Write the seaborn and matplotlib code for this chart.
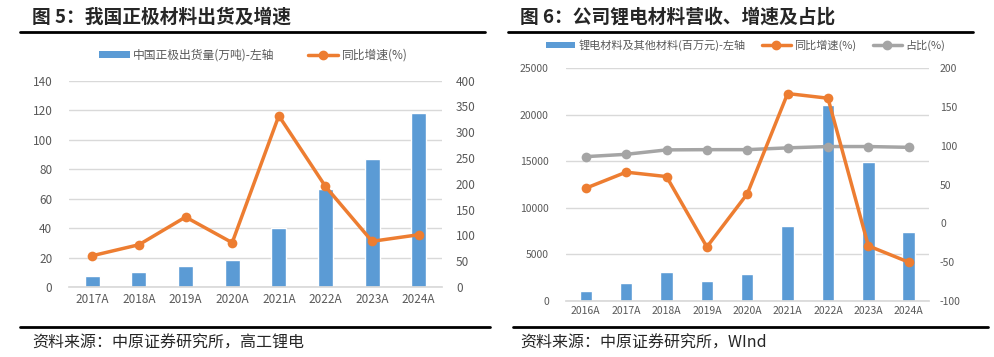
import numpy as np
import pandas as pd
import matplotlib
matplotlib.use("Agg")
import matplotlib.pyplot as plt
from matplotlib.lines import Line2D
from matplotlib.patches import Patch
import seaborn as sns

# chart 5 data
years5 = ['2017A', '2018A', '2019A', '2020A', '2021A', '2022A', '2023A', '2024A']
shipments = [7.7, 10.2, 14.5, 18.3, 39.9, 66.8, 87.2, 117.8]
growth5 = [60.7, 82, 135.7, 86, 332, 195, 88.6, 101.4]

# chart 6 data
years6 = ['2016A', '2017A', '2018A', '2019A', '2020A', '2021A', '2022A', '2023A', '2024A']
revenue = [1100, 1900, 3080, 2150, 2940, 8060, 21060, 14930, 7410]
growth6 = [45.3, 66, 60.3, -30.4, 38, 167.3, 161.3, -29, -50]
share6 = [86, 89, 94.7, 95, 95, 97.3, 99, 99, 98]

sns.set_theme(style="white")
plt.rcParams['font.family'] = ['Noto Sans CJK SC', 'DejaVu Sans']
plt.rcParams['axes.unicode_minus'] = False

BLUE = '#5B9BD5'
ORANGE = '#ED7D31'
GRAY = '#A5A5A5'
TICK = '#595959'
GRID = '#D9D9D9'

fig = plt.figure(figsize=(9.94, 3.57), dpi=100)


def style_axes(ax, ax2, size):
    for a in (ax, ax2):
        for s in a.spines.values():
            s.set_visible(False)
        a.tick_params(axis='both', length=0, labelsize=size, labelcolor=TICK)
        a.set_xlabel('')
        a.set_ylabel('')
    ax.spines['bottom'].set_visible(True)
    ax.spines['bottom'].set_color(GRID)
    ax.yaxis.grid(True, color=GRID, linewidth=1)
    ax.set_axisbelow(True)
    ax2.grid(False)


# ---------- chart 5 ----------
df5 = pd.DataFrame({'year': years5, 'ship': shipments, 'growth': growth5})
ax = fig.add_axes([0.0694, 0.196, 0.3753, 0.578])
sns.barplot(data=df5, x='year', y='ship', color=BLUE, width=0.32, saturation=1, ax=ax)
ax2 = ax.twinx()
sns.lineplot(x=np.arange(len(years5)), y=df5['growth'], color=ORANGE, marker='o',
             markersize=7, markeredgewidth=0, linewidth=2.5, ax=ax2)
ax.set_ylim(0, 140)
ax.set_yticks(range(0, 141, 20))
ax2.set_ylim(0, 400)
ax2.set_yticks(range(0, 401, 50))
ax.set_xlim(-0.5, len(years5) - 0.5)
ax2.set_xlim(-0.5, len(years5) - 0.5)
style_axes(ax, ax2, 8.5)
ax.tick_params(axis='y', pad=12)
ax2.tick_params(axis='y', pad=10)
ax.tick_params(axis='x', pad=4)

h5 = [Patch(facecolor=BLUE, edgecolor='none'),
      Line2D([0], [0], color=ORANGE, lw=2.5, marker='o', markersize=6)]
fig.legend(h5, ['中国正极出货量(万吨)-左轴', '同比增速(%)'], loc='center',
           bbox_to_anchor=(0.255, 0.845), ncol=2, frameon=False, fontsize=8.5,
           labelcolor=TICK, handlelength=2.6, handleheight=0.45, columnspacing=2.8,
           handletextpad=0.3)

fig.text(0.032, 0.952, '图 5：我国正极材料出货及增速', fontsize=13.5, fontweight='bold',
         va='center', ha='left')
fig.add_artist(Line2D([20 / 994, 485 / 994], [0.91, 0.91], color='black', lw=2))
fig.add_artist(Line2D([20 / 994, 490 / 994], [1 - 327 / 357] * 2, color='black', lw=2))
fig.text(0.032, 1 - 343 / 357, '资料来源：中原证券研究所，高工锂电', fontsize=11.5,
         va='center', ha='left')

# ---------- chart 6 ----------
df6 = pd.DataFrame({'year': years6, 'rev': revenue, 'growth': growth6, 'share': share6})
bx = fig.add_axes([0.569, 0.157, 0.3655, 0.652])
sns.barplot(data=df6, x='year', y='rev', color=BLUE, width=0.31, saturation=1, ax=bx)
bx2 = bx.twinx()
pos6 = np.arange(len(years6))
sns.lineplot(x=pos6, y=df6['share'], color=GRAY, marker='o', markersize=7,
             markeredgewidth=0, linewidth=2.5, ax=bx2)
sns.lineplot(x=pos6, y=df6['growth'], color=ORANGE, marker='o', markersize=7,
             markeredgewidth=0, linewidth=2.5, ax=bx2)
bx.set_ylim(0, 25000)
bx.set_yticks(range(0, 25001, 5000))
bx2.set_ylim(-100, 200)
bx2.set_yticks(range(-100, 201, 50))
bx.set_xlim(-0.5, len(years6) - 0.5)
bx2.set_xlim(-0.5, len(years6) - 0.5)
style_axes(bx, bx2, 7.5)
bx.tick_params(axis='y', pad=12)
bx2.tick_params(axis='y', pad=8)

h6 = [Patch(facecolor=BLUE, edgecolor='none'),
      Line2D([0], [0], color=ORANGE, lw=2.5, marker='o', markersize=6),
      Line2D([0], [0], color=GRAY, lw=2.5, marker='o', markersize=6)]
fig.legend(h6, ['锂电材料及其他材料(百万元)-左轴', '同比增速(%)', '占比(%)'], loc='center',
           bbox_to_anchor=(0.75, 0.874), ncol=3, frameon=False, fontsize=8,
           labelcolor=TICK, handlelength=2.6, handleheight=0.45, columnspacing=1.5,
           handletextpad=0.3)

fig.text(0.523, 0.952, '图 6：公司锂电材料营收、增速及占比', fontsize=13.5, fontweight='bold',
         va='center', ha='left')
fig.add_artist(Line2D([508 / 994, 973 / 994], [0.91, 0.91], color='black', lw=2))
fig.add_artist(Line2D([513 / 994, 988 / 994], [1 - 327 / 357] * 2, color='black', lw=2))
fig.text(0.523, 1 - 343 / 357, '资料来源：中原证券研究所，WInd', fontsize=11.5,
         va='center', ha='left')

fig.savefig('out.png', dpi=100)
